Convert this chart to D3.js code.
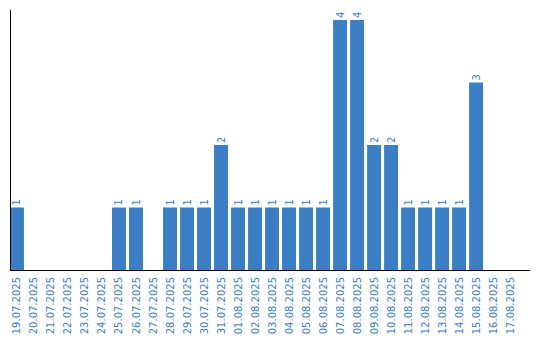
<!DOCTYPE html>
<html>
<head>
<meta charset="utf-8">
<script src="https://cdn.jsdelivr.net/npm/d3@7"></script>
<style>
  body { margin: 0; background: #fff; }
  text { font-family: "DejaVu Sans", sans-serif; font-size: 10px; fill: #3a7ec2; }
</style>
</head>
<body>
<div id="chart"></div>
<script>
var width = 540,
    height = 340

var dates = ["19.07.2025", "20.07.2025", "21.07.2025", "22.07.2025", "23.07.2025",
  "24.07.2025", "25.07.2025", "26.07.2025", "27.07.2025", "28.07.2025",
  "29.07.2025", "30.07.2025", "31.07.2025", "01.08.2025", "02.08.2025",
  "03.08.2025", "04.08.2025", "05.08.2025", "06.08.2025", "07.08.2025",
  "08.08.2025", "09.08.2025", "10.08.2025", "11.08.2025", "12.08.2025",
  "13.08.2025", "14.08.2025", "15.08.2025", "16.08.2025", "17.08.2025"]
var counts = [1, 0, 0, 0, 0, 0, 1, 1, 0, 1,
  1, 1, 2, 1, 1, 1, 1, 1, 1, 4,
  4, 2, 2, 1, 1, 1, 1, 3, 0, 0]

var data = dates.map(function(d, i) { return { date: d, value: counts[i] } })

var mLeft = 10, mRight = 530, mTop = 10, mBottom = 270

var x = d3.scaleBand()
  .domain(dates)
  .range([mLeft, mRight])
  .paddingInner(0.18)
  .paddingOuter(0.38)
  .align(0)

var y = d3.scaleLinear()
  .domain([0, 4.16])
  .range([mBottom, mTop])

var svg = d3.select("#chart")
  .append("svg")
    .attr("width", width)
    .attr("height", height)

// bars (only where there is a value)
svg.selectAll(".bar")
  .data(data.filter(function(d) { return d.value > 0 }))
  .enter()
  .append("rect")
    .attr("x", function(d) { return x(d.date) })
    .attr("y", function(d) { return y(d.value) })
    .attr("width", x.bandwidth())
    .attr("height", function(d) { return y(0) - y(d.value) })
    .attr("fill", "#3b7ec3")

// value labels, rotated
svg.selectAll(".val")
  .data(data.filter(function(d) { return d.value > 0 }))
  .enter()
  .append("text")
    .attr("transform", function(d) {
      return "translate(" + (x(d.date) + x.bandwidth() / 2 + 3.5) + "," + (y(d.value) - 2) + ") rotate(-90)"
    })
    .text(function(d) { return d.value })

// x axis (labels only)
var xAxis = svg.append("g")
  .attr("transform", "translate(0," + mBottom + ")")
  .call(d3.axisBottom(x).tickSize(0).tickPadding(0))
xAxis.select(".domain").remove()
xAxis.selectAll("text")
  .attr("y", 0)
  .attr("dy", "0.35em")
  .attr("transform", "translate(0,7) rotate(-90)")
  .style("text-anchor", "end")
  .attr("x", 0)
  .attr("fill", "#3a7ec2")
  .style("font-family", "DejaVu Sans, sans-serif")
  .style("font-size", "10px")

// axis lines
svg.append("line")
  .attr("x1", mLeft + 0.5).attr("x2", mLeft + 0.5)
  .attr("y1", mTop).attr("y2", mBottom)
  .attr("stroke", "#000")
svg.append("line")
  .attr("x1", mLeft).attr("x2", mRight)
  .attr("y1", mBottom + 0.5).attr("y2", mBottom + 0.5)
  .attr("stroke", "#000")
</script>
</body>
</html>
